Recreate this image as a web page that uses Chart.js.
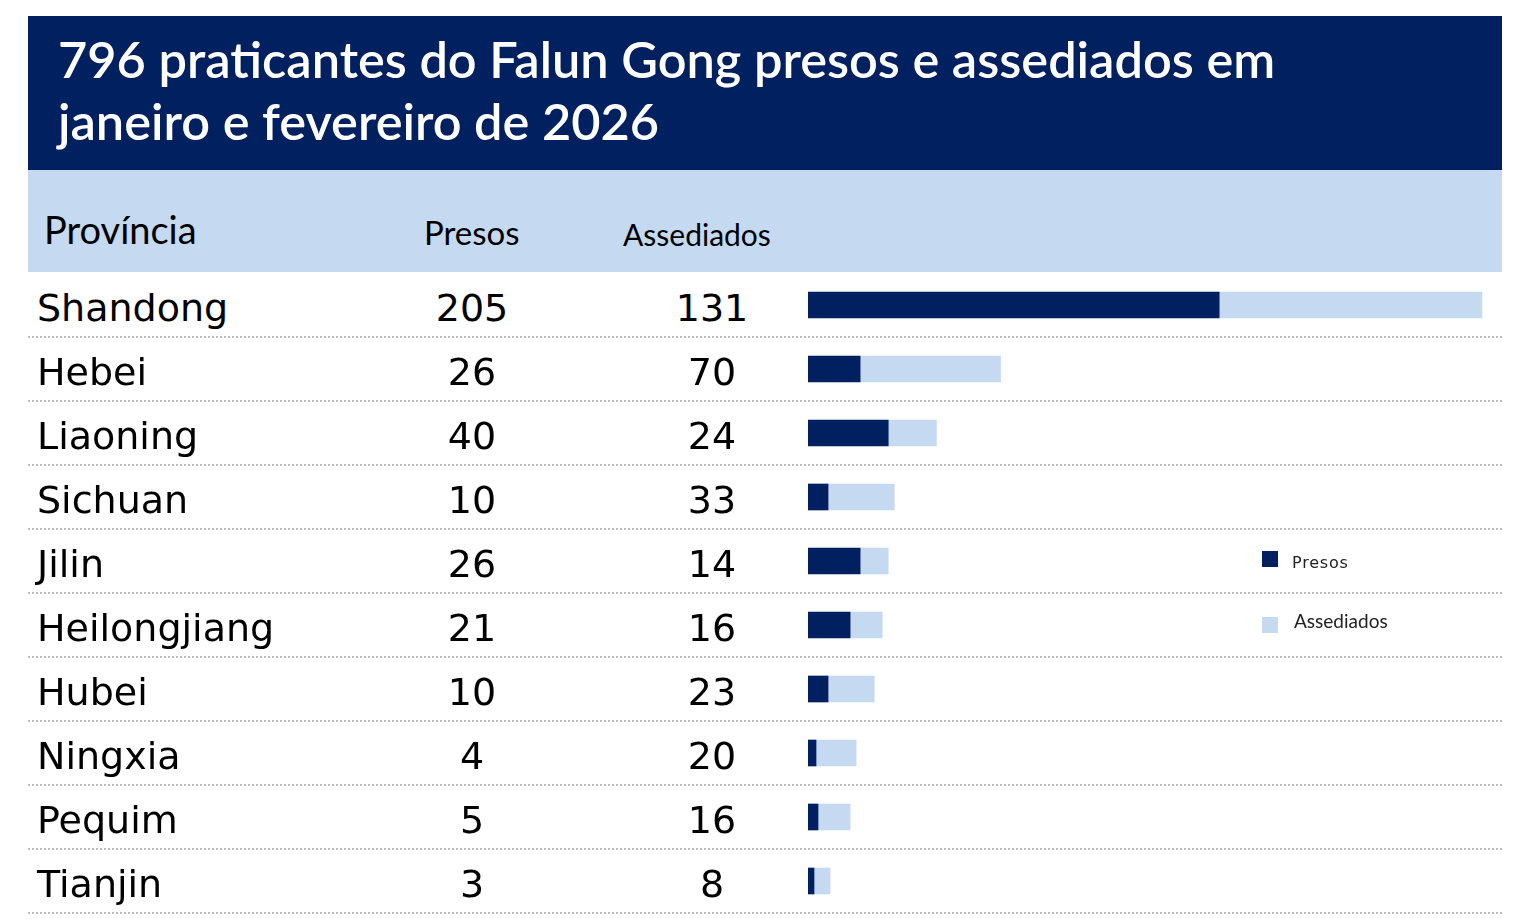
<!DOCTYPE html>
<html><head><meta charset="utf-8">
<script src="https://cdn.jsdelivr.net/npm/chart.js@4.4.1/dist/chart.umd.min.js"></script>
<style>
html,body{margin:0;padding:0;background:#fff;width:1530px;height:922px;overflow:hidden;}
#wrap{position:relative;width:1530px;height:922px;}
.abs{position:absolute;white-space:nowrap;}
#titleband{left:28px;top:16px;width:1474px;height:154px;background:#002060;}
#title{left:58px;top:28px;color:#fff;font-family:Lato,sans-serif;font-weight:600;font-size:50.5px;line-height:62px;}
#headband{left:28px;top:170px;width:1474px;height:102px;background:#C5D9F1;}
.hd{font-family:Lato,sans-serif;color:#000;}
.name,.num{font-family:"DejaVu Sans",sans-serif;font-size:38px;color:#000;height:64px;line-height:70px;}
.num{text-align:center;width:160px;}
.sep{left:28px;width:1474px;height:0;border-top:2px dotted #bcbcbc;}
#chartbox{left:808px;top:273px;width:694px;height:640px;}
.lgbox{width:16px;height:16px;}
.lgtxt{font-size:16px;color:#222;}
</style></head>
<body><div id="wrap">
<div id="titleband" class="abs"></div>
<div id="title" class="abs">796 praticantes do Falun Gong presos e assediados em<br>janeiro e fevereiro de 2026</div>
<div id="headband" class="abs"></div>
<div class="abs hd" style="left:44px;top:206px;font-size:38px;">Província</div>
<div class="abs hd" style="left:424px;top:212px;font-size:33px;">Presos</div>
<div class="abs hd" style="left:623px;top:216px;font-size:30px;">Assediados</div>
<div id="chartbox" class="abs"><canvas id="c"></canvas></div>
<div class="abs lgbox" style="left:1262px;top:551px;background:#002060;"></div>
<div class="abs lgtxt" style="left:1292px;top:553px;font-family:'DejaVu Sans',sans-serif;letter-spacing:0.8px;">Presos</div>
<div class="abs lgbox" style="left:1262px;top:617px;background:#C5D9F1;"></div>
<div class="abs lgtxt" style="left:1294px;top:609px;font-family:Lato,sans-serif;font-size:19px;">Assediados</div>
</div>
<script>
const provinces = ["Shandong","Hebei","Liaoning","Sichuan","Jilin","Heilongjiang","Hubei","Ningxia","Pequim","Tianjin"];
const presos = [205,26,40,10,26,21,10,4,5,3];
const assediados = [131,70,24,33,14,16,23,20,16,8];
const seriesNames = ["Presos","Assediados"];

const wrap = document.getElementById('wrap');
const rowTop = 273, rowH = 64;
provinces.forEach((p,i)=>{
  const y = rowTop + i*rowH;
  const n = document.createElement('div');
  n.className='abs name'; n.style.left='37px'; n.style.top=y+'px'; n.textContent=p;
  wrap.appendChild(n);
  const a = document.createElement('div');
  a.className='abs num'; a.style.left=(472-80)+'px'; a.style.top=y+'px'; a.textContent=presos[i];
  wrap.appendChild(a);
  const b = document.createElement('div');
  b.className='abs num'; b.style.left=(712-80)+'px'; b.style.top=y+'px'; b.textContent=assediados[i];
  wrap.appendChild(b);
  const s = document.createElement('div');
  s.className='abs sep'; s.style.top=(y+rowH-1)+'px';
  wrap.appendChild(s);
});

new Chart(document.getElementById('c'),{
  type:'bar',
  data:{labels:provinces,datasets:[
    {label:seriesNames[0],data:presos,backgroundColor:'#002060',barThickness:26},
    {label:seriesNames[1],data:assediados,backgroundColor:'#C5D9F1',barThickness:26}
  ]},
  options:{
    indexAxis:'y',responsive:true,maintainAspectRatio:false,animation:false,
    layout:{padding:0},
    plugins:{legend:{display:false},tooltip:{enabled:false}},
    scales:{
      x:{stacked:true,min:0,max:346,display:false},
      y:{stacked:true,display:false}
    }
  }
});
</script>
</body></html>
